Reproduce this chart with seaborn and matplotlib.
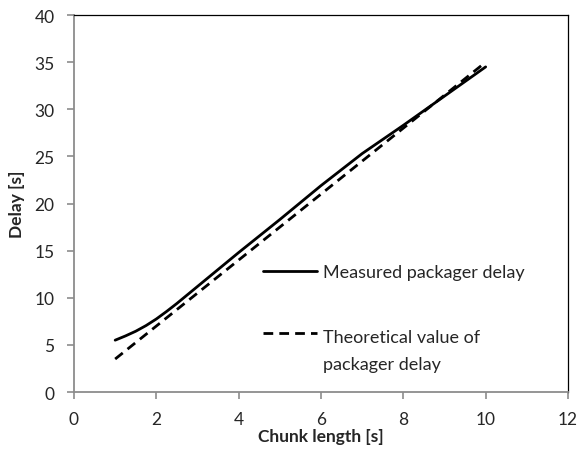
import pandas as pd
import seaborn as sns
import matplotlib.pyplot as plt
from matplotlib.legend_handler import HandlerLine2D

# values
chunk_measured = [1, 1.25, 1.5, 1.75, 2, 2.25, 2.5, 3, 4, 5, 6, 7, 8, 9, 10]
delay_measured = [5.5, 5.95, 6.45, 7.05, 7.75, 8.55, 9.4, 11.2, 14.8, 18.3, 21.9, 25.3, 28.3, 31.4, 34.5]
chunk_theory = [1, 2, 3, 4, 5, 6, 7, 8, 9, 10]
delay_theory = [3.5, 7.0, 10.5, 14.0, 17.5, 21.0, 24.5, 28.0, 31.5, 35.0]

lbl_meas = "Measured packager delay"
lbl_theo = "Theoretical value of\npackager delay"

df = pd.concat([
    pd.DataFrame({"chunk": chunk_measured, "delay": delay_measured, "serie": lbl_meas}),
    pd.DataFrame({"chunk": chunk_theory, "delay": delay_theory, "serie": lbl_theo}),
])

sns.set_style("white")
plt.rcParams['font.family'] = ['Lato', 'DejaVu Sans']


class FirstLineHandler(HandlerLine2D):
    # put the legend line next to the first text line, like the original
    def __init__(self, shift=0, **kw):
        super().__init__(**kw)
        self.shift = shift

    def create_artists(self, legend, orig_handle, xdescent, ydescent,
                       width, height, fontsize, trans):
        return super().create_artists(legend, orig_handle, xdescent,
                                      ydescent - self.shift, width, height,
                                      fontsize, trans)


fig = plt.figure(figsize=(5.79, 4.52), dpi=100)
ax = fig.add_axes([0.1278, 0.1305, 0.8532, 0.834])

sns.lineplot(data=df, x="chunk", y="delay", style="serie", hue="serie",
             palette=["black", "black"],
             dashes={lbl_meas: "", lbl_theo: (3.5, 2.2)},
             linewidth=2, ax=ax)

ax.set_xlim(0, 12)
ax.set_ylim(0, 40)
ax.set_xticks(range(0, 13, 2))
ax.set_yticks(range(0, 41, 5))
ax.tick_params(axis="both", labelsize=12.5, length=5, width=1.2,
               color="#8c8c8c", direction="out", left=True, bottom=True, pad=9)

for side in ["left", "bottom"]:
    ax.spines[side].set_color("#8c8c8c")
    ax.spines[side].set_linewidth(1.3)
for side in ["top", "right"]:
    ax.spines[side].set_color("black")
    ax.spines[side].set_linewidth(0.9)

ax.set_xlabel("Chunk length [s]", fontsize=12.5, fontweight="bold")
ax.set_ylabel("Delay [s]", fontsize=12.5, fontweight="bold")
ax.xaxis.set_label_coords(0.5, -0.095)
ax.yaxis.set_label_coords(-0.10, 0.5)

handles, labels = ax.get_legend_handles_labels()
for h in handles:
    h.set_linewidth(2)
leg = ax.legend(handles, labels, frameon=False, fontsize=13, loc="upper left",
                bbox_to_anchor=(0.3826, 0.339), borderaxespad=0, borderpad=0,
                handlelength=3.0, handletextpad=0.35, labelspacing=2.7,
                handler_map={handles[1]: FirstLineHandler(shift=25.5)})
for t in leg.get_texts():
    t.set_linespacing(1.85)

fig.savefig("out.png", dpi=100)
